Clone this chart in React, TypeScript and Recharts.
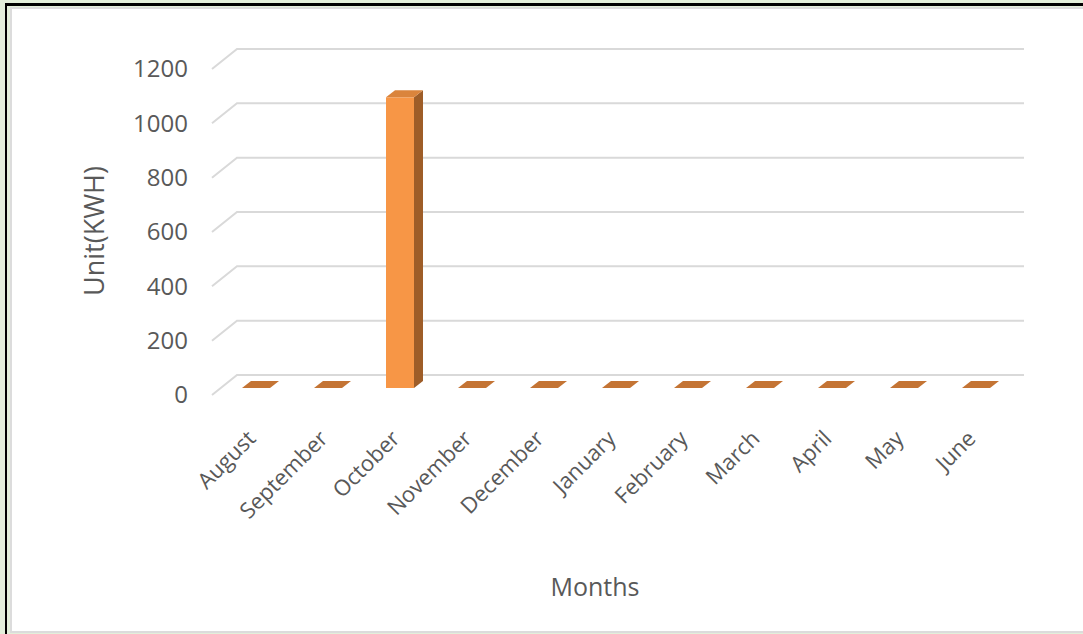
import { BarChart, Bar, XAxis, YAxis, CartesianGrid } from "recharts";

// monthly consumption, Unit(KWH)
const months = [
  "August", "September", "October", "November", "December", "January",
  "February", "March", "April", "May", "June",
];
const units = [0, 0, 1070, 0, 0, 0, 0, 0, 0, 0, 0];
const yTicks = [0, 200, 400, 600, 800, 1000, 1200];

const data = months.map((m, i) => ({ month: m, units: units[i] }));

const FONT = "'Open Sans', sans-serif";
const TEXT = "#595959";
const GRID = "#D9D9D9";
// depth of the 3d bars and of the back wall
const BAR_DX = 9;
const BAR_DY = 7;
const WALL_DX = 25;
const WALL_DY = 13;
const LABEL_DY = 7;

const Bar3D = (props: any) => {
  const { x, y, width, height } = props;
  const h = Math.max(height || 0, 0);
  const top = `${x},${y} ${x + BAR_DX},${y - BAR_DY} ${x + width + BAR_DX},${y - BAR_DY} ${x + width},${y}`;
  const side = `${x + width},${y} ${x + width + BAR_DX},${y - BAR_DY} ${x + width + BAR_DX},${y + h - BAR_DY} ${x + width},${y + h}`;
  return (
    <g>
      {h > 0 && <polygon points={side} fill="#9E5D28" />}
      {h > 0 && <rect x={x} y={y} width={width} height={h} fill="#F79646" />}
      <polygon points={top} fill={h > 0 ? "#DA843C" : "#C47434"} />
    </g>
  );
};

const gridLine = (p: any) => {
  const y = p.y1;
  const pts = `${p.x1 - 8},${y + LABEL_DY} ${p.x1 - 8 + WALL_DX},${y - WALL_DY} ${p.x2 + 12},${y - WALL_DY}`;
  return <polyline key={p.key ?? `g-${y}`} points={pts} fill="none" stroke={GRID} strokeWidth={2} />;
};

const YTick = (props: any) => {
  const { y, payload } = props;
  return (
    <text x={188} y={y + LABEL_DY} dy="0.35em" textAnchor="end" fontFamily={FONT} fontSize={24} fill={TEXT}>
      {payload.value}
    </text>
  );
};

const XTick = (props: any) => {
  const { x, payload } = props;
  const tx = x + 1;
  const ty = 440;
  return (
    <text
      x={tx}
      y={ty}
      textAnchor="end"
      transform={`rotate(-45 ${tx} ${ty})`}
      fontFamily={FONT}
      fontSize={22}
      fill={TEXT}
    >
      {payload.value}
    </text>
  );
};

export default function App() {
  return (
    <div style={{ position: "absolute", left: 0, top: 0, width: 1083, height: 634, background: "#E3EFDA", overflow: "hidden" }}>
      <div style={{ position: "absolute", left: 5, top: 3, width: 1100, height: 700, borderLeft: "2px solid #000", borderTop: "3px solid #000" }} />
      <div style={{ position: "absolute", left: 10, top: 7, width: 1100, height: 622, background: "#fff", border: "2px solid #DCDCDC", borderRight: "none" }} />
      <div style={{ position: "absolute", left: 0, top: 0 }}>
        <BarChart width={1083} height={634} data={data} margin={{ top: 62, right: 71, bottom: 216, left: 160 }}>
          <CartesianGrid vertical={false} horizontal={gridLine} />
          <XAxis dataKey="month" tick={<XTick />} tickLine={false} axisLine={false} interval={0} height={30} />
          <YAxis
            domain={[0, 1200]}
            ticks={yTicks}
            tick={<YTick />}
            tickLine={false}
            axisLine={false}
            width={60}
          />
          <Bar dataKey="units" barSize={28} shape={<Bar3D />} isAnimationActive={false} />
          <text x={93} y={231} textAnchor="middle" dominantBaseline="central" transform="rotate(-90 93 231)" fontFamily={FONT} fontSize={27} fill={TEXT}>
            Unit(KWH)
          </text>
          <text x={595} y={586} textAnchor="middle" dominantBaseline="central" fontFamily={FONT} fontSize={25} fill={TEXT}>
            Months
          </text>
        </BarChart>
      </div>
    </div>
  );
}
